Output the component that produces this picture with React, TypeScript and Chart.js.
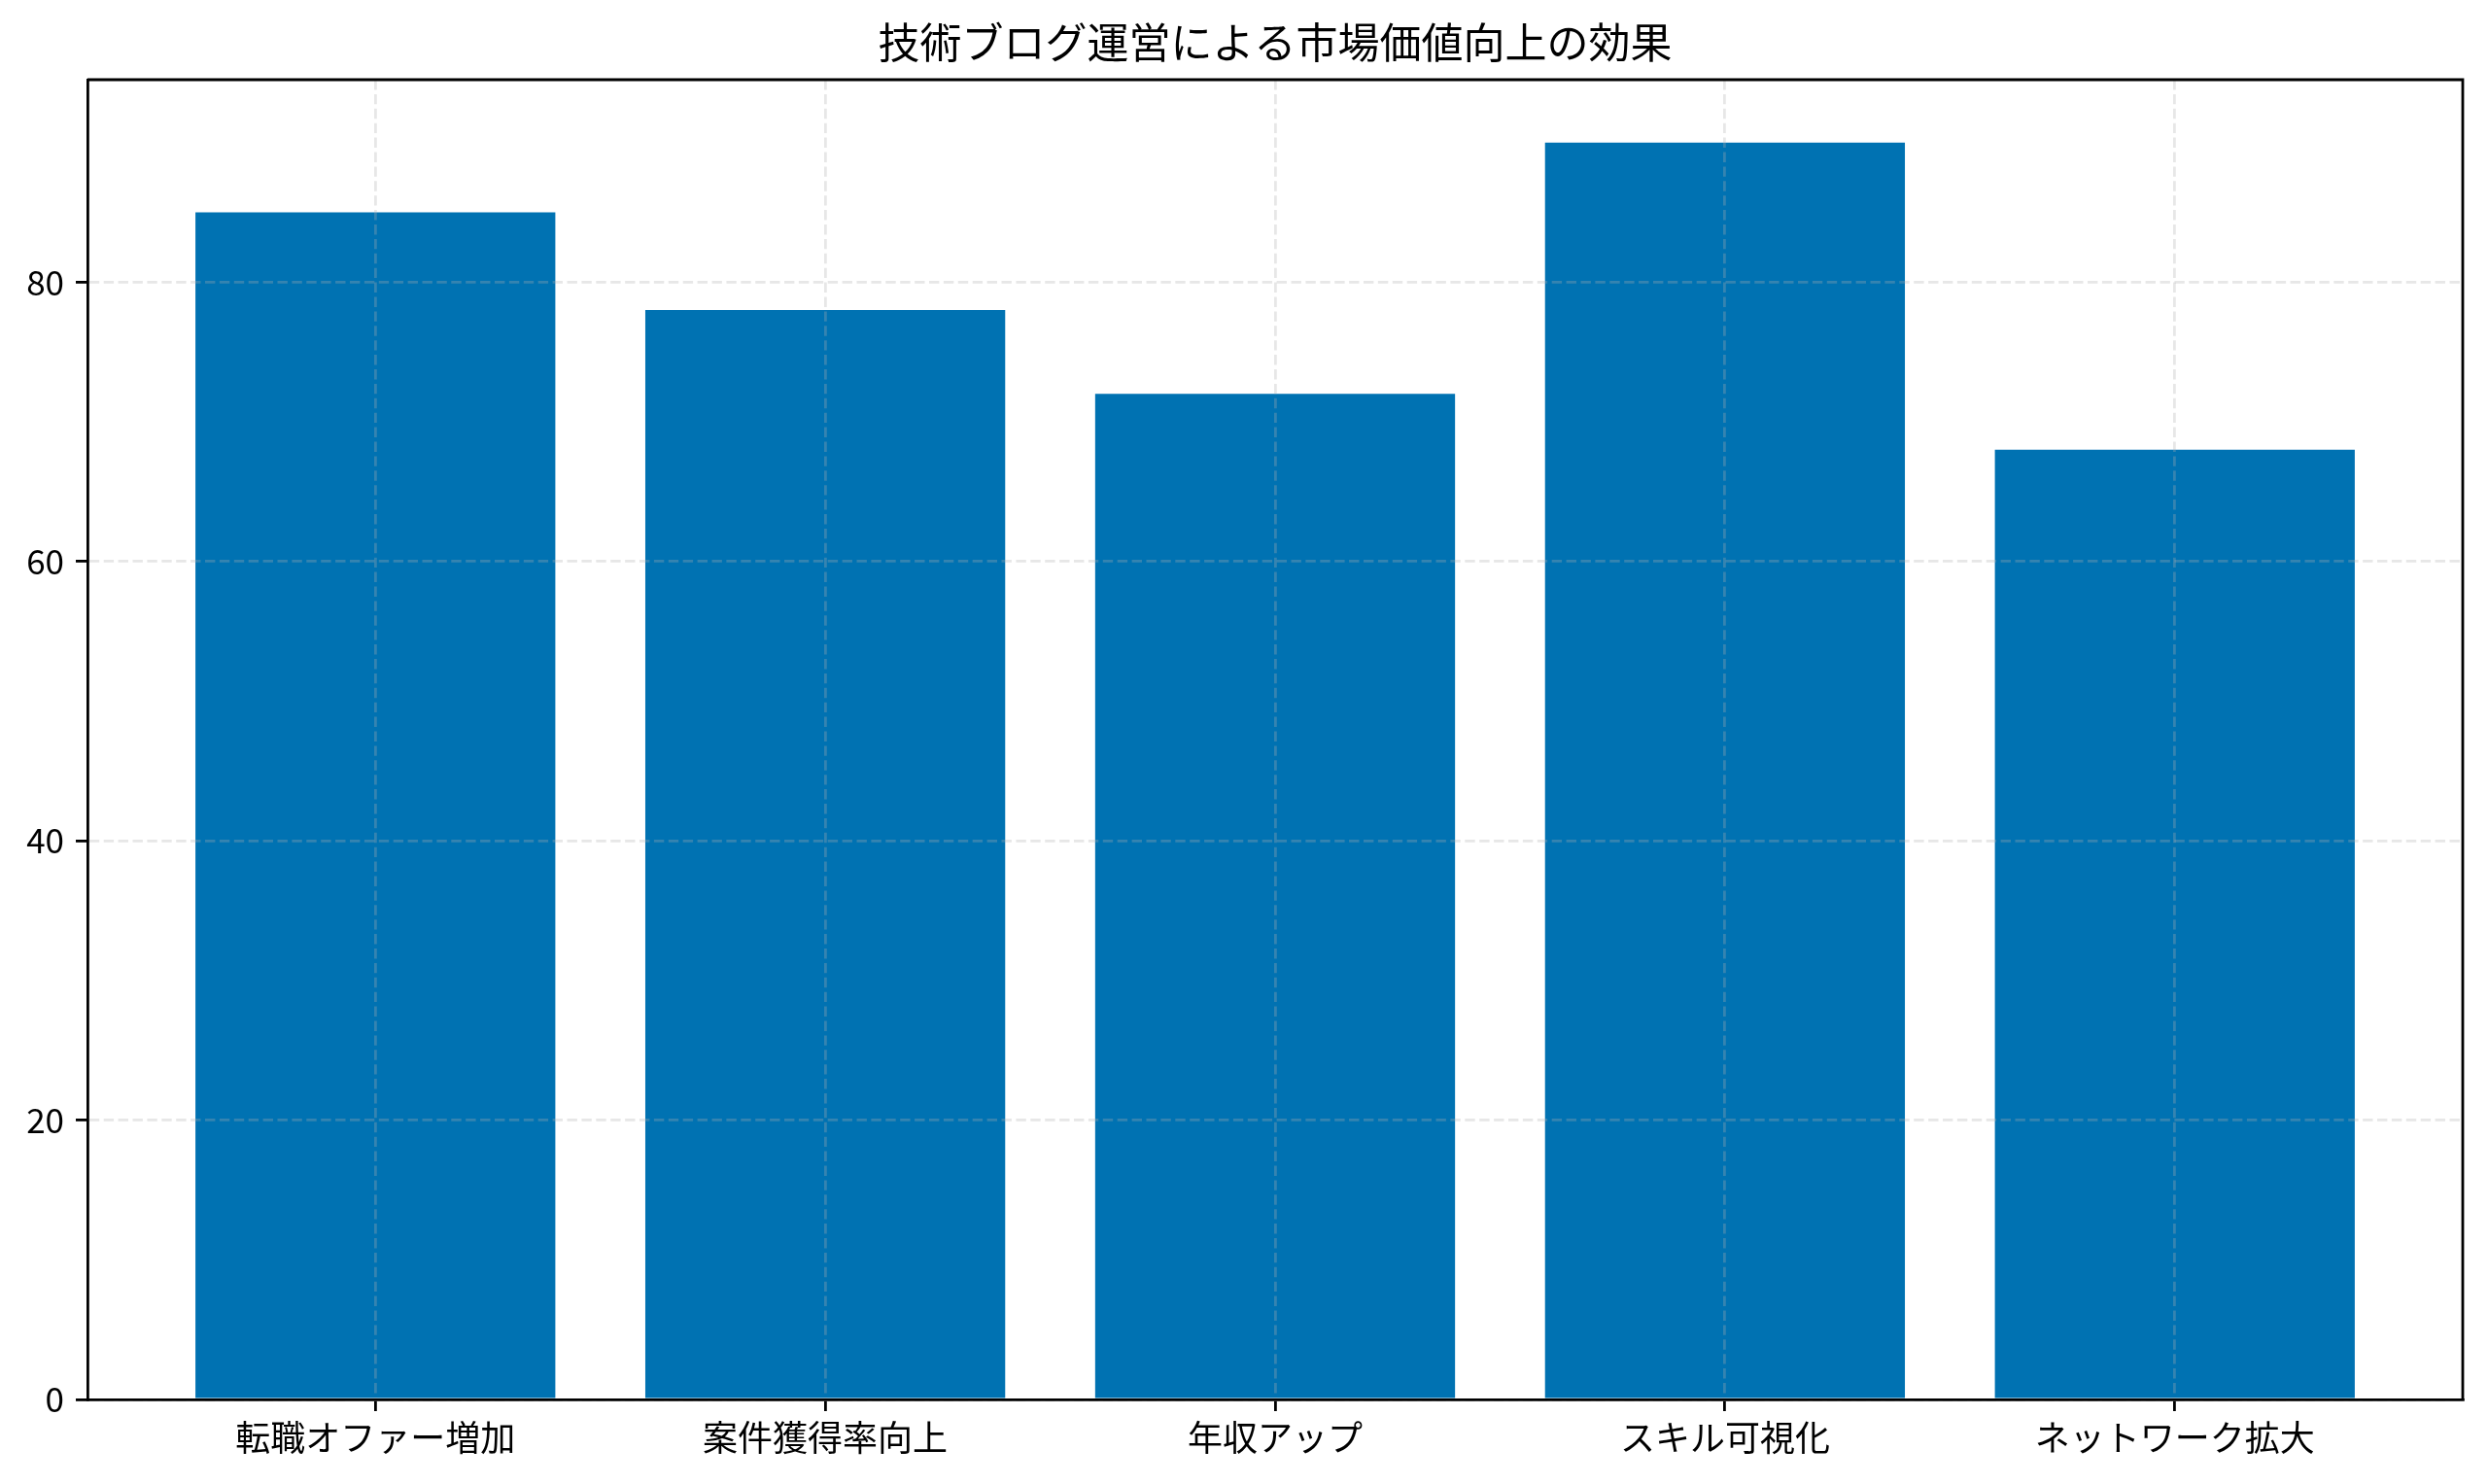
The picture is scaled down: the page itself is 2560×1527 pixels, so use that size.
import Chart from "chart.js/auto"
import { useRef, useEffect } from "react"

const categories = [
    "転職オファー増加",
    "案件獲得率向上",
    "年収アップ",
    "スキル可視化",
    "ネットワーク拡大"
]
const effectValues = [85, 78, 72, 90, 68]
const yTicks = [0, 20, 40, 60, 80]

const FONT = "'Noto Sans CJK JP', 'Noto Sans', sans-serif"
const BAR_COLOR = "#0072B2"
const GRID_COLOR = "rgba(176, 176, 176, 0.3)"
const LINE_W = 2.8

// top and right spines, like a matplotlib frame
const framePlugin = {
    id: "frame",
    afterDraw(chart: Chart) {
        const { ctx, chartArea } = chart
        ctx.save()
        ctx.strokeStyle = "#000"
        ctx.lineWidth = LINE_W
        ctx.beginPath()
        ctx.moveTo(chartArea.left, chartArea.top)
        ctx.lineTo(chartArea.right, chartArea.top)
        ctx.lineTo(chartArea.right, chartArea.bottom)
        ctx.stroke()
        ctx.restore()
    }
}

function EffectChart() {
    const chartInstance = useRef<Chart<"bar">>(null)
    const containerRef = useRef<HTMLCanvasElement>(null)

    useEffect(
        () => {
            const barWidth = 0.8
            const margin = 0.05 * (categories.length - 1 + barWidth)
            const xMin = -barWidth / 2 - margin
            const xMax = categories.length - 1 + barWidth / 2 + margin
            const yMax = Math.max(...effectValues) * 1.05

            const instance = new Chart(containerRef.current, {
                type: "bar",
                data: {
                    datasets: [
                        {
                            data: effectValues.map((v, i) => ({ x: i, y: v })),
                            backgroundColor: BAR_COLOR,
                            borderWidth: 0,
                            categoryPercentage: barWidth,
                            barPercentage: 1
                        }
                    ]
                },
                options: {
                    responsive: false,
                    animation: false,
                    devicePixelRatio: 1,
                    layout: {
                        padding: { left: 0, right: 26, top: 0, bottom: 0 }
                    },
                    plugins: {
                        legend: { display: false },
                        tooltip: { enabled: false },
                        title: {
                            display: true,
                            fullSize: false,
                            text: "技術ブログ運営による市場価値向上の効果",
                            color: "#000",
                            font: { family: FONT, size: 43, weight: "normal" },
                            padding: { top: 18.2, bottom: 12.2 }
                        }
                    },
                    scales: {
                        x: {
                            type: "linear",
                            min: xMin,
                            max: xMax,
                            offset: false,
                            afterBuildTicks: (scale) => {
                                scale.ticks = categories.map((_, i) => ({ value: i }))
                            },
                            afterFit: (scale) => {
                                scale.height = 87
                            },
                            ticks: {
                                color: "#000",
                                font: { family: FONT, size: 36 },
                                padding: 6,
                                maxRotation: 0,
                                autoSkip: false,
                                callback: (value) => categories[value as number] ?? ""
                            },
                            grid: {
                                offset: false,
                                z: 1,
                                color: GRID_COLOR,
                                lineWidth: LINE_W,
                                tickColor: "#000",
                                tickLength: 12,
                                tickWidth: LINE_W
                            },
                            border: {
                                z: 2,
                                color: "#000",
                                width: LINE_W,
                                dash: [10.4, 4.5]
                            }
                        },
                        y: {
                            min: 0,
                            max: yMax,
                            afterBuildTicks: (scale) => {
                                scale.ticks = yTicks.map((v) => ({ value: v }))
                            },
                            afterFit: (scale) => {
                                scale.width = 90
                            },
                            ticks: {
                                color: "#000",
                                font: { family: FONT, size: 35 },
                                padding: 12
                            },
                            grid: {
                                z: 1,
                                color: GRID_COLOR,
                                lineWidth: LINE_W,
                                tickColor: "#000",
                                tickLength: 12,
                                tickWidth: LINE_W
                            },
                            border: {
                                z: 2,
                                color: "#000",
                                width: LINE_W,
                                dash: [10.4, 4.5]
                            }
                        }
                    }
                },
                plugins: [framePlugin]
            })

            chartInstance.current = instance

            return () => {
                chartInstance.current?.destroy()
                chartInstance.current = null
            }
        }, []
    )

    return (
        <div style={{ position: "fixed", left: 0, top: 0, width: 2560, height: 1527, background: "#fff" }}>
            <canvas ref={containerRef} width={2560} height={1527}></canvas>
        </div>
    )
}

export default function App() {
    return <EffectChart />
}
